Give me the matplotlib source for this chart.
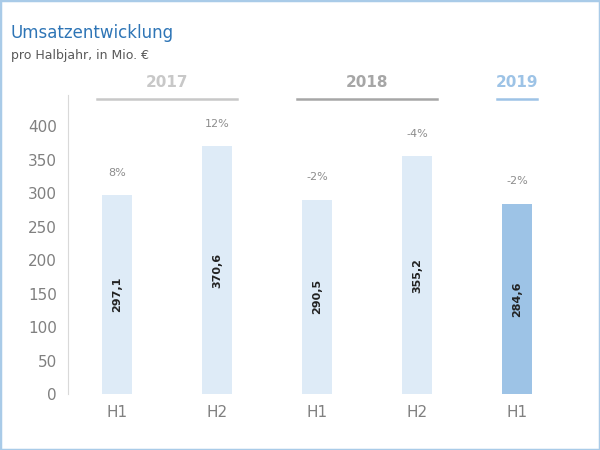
import matplotlib
matplotlib.use("Agg")
import matplotlib.pyplot as plt
from matplotlib.patches import Rectangle

halves = ["H1", "H2", "H1", "H2", "H1"]
values = [297.1, 370.6, 290.5, 355.2, 284.6]
growth = ["8%", "12%", "-2%", "-4%", "-2%"]
years = ["2017", "2018", "2019"]
year_spans = [(0, 1), (2, 3), (4, 4)]

fig = plt.figure(figsize=(6, 4.5), dpi=100)
fig.patches.append(Rectangle((0, 0), 1, 1, transform=fig.transFigure, fill=False,
                             edgecolor="#a9cbe8", linewidth=2.5))
ax = fig.add_axes([0.113, 0.124, 0.837, 0.664])

x = list(range(len(values)))
colors = ["#deebf7"] * 4 + ["#9dc3e6"]
ax.bar(x, values, width=0.3, color=colors)
for i, v in enumerate(values):
    ax.text(i, v / 2, f"{v:.1f}".replace(".", ","), rotation=90, ha="center", va="center",
            fontsize=8, fontweight="bold", color="#222222")
    ax.text(i, v + 33, growth[i], ha="center", va="center", fontsize=8, color="#8c8c8c")

ax.set_xlim(-0.49, 4.53)
ax.set_ylim(0, 446)
ax.set_yticks(range(0, 401, 50))
ax.set_xticks(x)
ax.set_xticklabels(halves)
ax.tick_params(axis="both", length=0, labelsize=11, colors="#808080", pad=8)
for s in ["top", "right", "bottom"]:
    ax.spines[s].set_visible(False)
ax.spines["left"].set_color("#d9d9d9")

ycol = ["#c8c8c8", "#a6a6a6", "#9dc3e6"]
for (a, b), yr, c in zip(year_spans, years, ycol):
    ax.plot([a - 0.2, b + 0.2], [440, 440], color=c, lw=1.8, clip_on=False)
    ax.text((a + b) / 2, 465, yr, ha="center", va="center", fontsize=11,
            fontweight="bold", color=c, clip_on=False)

fig.text(0.018, 0.915, "Umsatzentwicklung", fontsize=12, color="#2e75b6")
fig.text(0.018, 0.868, "pro Halbjahr, in Mio. €", fontsize=9, color="#595959")

fig.savefig("out.png")
